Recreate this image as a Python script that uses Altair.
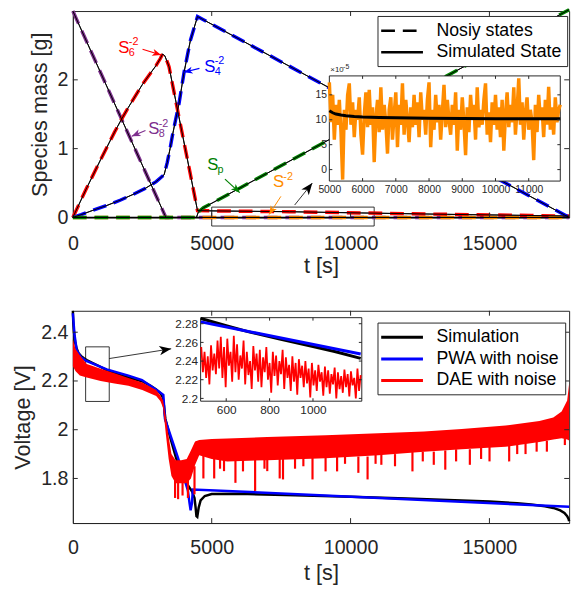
import altair as alt
import pandas as pd

FONT = "Liberation Sans"
AX = "#262626"
RED, BLUE, PURPLE, GREEN, ORANGE = "#ff0000", "#0000ff", "#7e2f8e", "#008000", "#ff8c00"

W, H1, H2 = 505, 210, 216
X_MAX = 17870

# ---------------- top panel: species masses [g] ----------------
s8_t = [0, 3350, 17870]
s8_v = [3.0, 0.0, 0.0]
s6_t = [0, 500, 1000, 1500, 1756, 2000, 2500, 2800, 3000, 3150, 3230, 3310, 3400, 3463, 3800, 4200, 4488, 5000, 7800, 10400, 13500, 16500, 17870]
s6_v = [0.0, 0.43, 0.84, 1.24, 1.43, 1.6, 1.93, 2.1, 2.21, 2.31, 2.375, 2.35, 2.26, 2.19, 1.5, 0.69, 0.1, 0.095, 0.083, 0.065, 0.045, 0.028, 0.02]
s4_t = [0, 300, 700, 1200, 1700, 2200, 2600, 3000, 3286, 3400, 3500, 3580, 3700, 3816, 4000, 4230, 4488, 17870]
s4_v = [0.0, 0.04, 0.1, 0.17, 0.25, 0.34, 0.42, 0.52, 0.62, 0.8, 1.0, 1.18, 1.42, 1.64, 2.1, 2.57, 2.92, 0.0]
s2_t = [0, 4450, 4550, 17870]
s2_v = [0.0, 0.0, 0.0001, 0.0001]
sp_t = [0, 4450, 4520, 4700, 17870]
sp_v = [0.0, 0.0, 0.08, 0.14, 3.02]

# inset (S^-2, units of 1e-5 g)
ins1_t0, ins1_dt = 5000, 50
ins1_noisy = [17.5, 9.5, 15, 6, 13, 9, 14, 7.5, -2, 12, 8, 15, 17.3, 9, 13.5, 6.5, 12, 10, 14.5, 7,
              3, 11, 15.5, 8.5, 16, 9, 12.5, 1.5, 10.5, 14, 7.5, 16.5, 8, 13, 9.5, 3.2, 12, 14.5, 6, 11,
              15.5, 4.5, 13, 9, 17.3, 7, 14, 10, 5.5, 12.5, 8.5, 15, 9, 13.5, 6.5, 15.5, 10, 12, 7, 14,
              17.5, 4.5, 12, 8, 15, 9.5, 13, 6, 11.5, 17, 8.5, 14, 10, 7, 13, 9, 15.5, 3.8, 12, 8,
              14.5, 9.5, 2.9, 12.5, 7.5, 15, 10, 13, 6, 16.5, 8.5, 12, 9, 14, 17.3, 7, 11.5, 5.5, 13.5, 9,
              15, 8, 12.5, 6.5, 14, 3.8, 11, 15.5, 8.5, 13, 9.5, 16.5, 7, 12, 18.3, 9, 13.5, 6, 11.5, 14.5,
              8, 12, 9.5, 1.9, 13, 7.5, 15, 10, 12.5, 6.5, 14, 9, 16.6, 8, 12.5, 7, 14.5, 9.5, 12, 13]
ins1_sim_t = [5000, 5100, 5200, 5350, 5500, 5750, 6000, 6500, 7000, 8000, 9000, 10000, 11000, 11950]
ins1_sim_v = [11.8, 11.4, 11.15, 10.95, 10.8, 10.65, 10.55, 10.45, 10.4, 10.3, 10.25, 10.2, 10.2, 10.2]

# ---------------- bottom panel: voltage [V] ----------------
sim_t = [0, 15, 40, 80, 130, 200, 300, 400, 500, 700, 900, 1200, 1600, 2000, 2490, 2800, 3000, 3150, 3230, 3280,
         3330, 3500, 3718, 3900, 4100, 4300, 4380, 4420, 4450, 4480, 4530, 4600, 4750, 5000, 6000, 8000, 10000,
         12000, 14000, 15000, 16000, 16500, 17000, 17300, 17550, 17700, 17800, 17850, 17870]
sim_v = [2.488, 2.44, 2.40, 2.36, 2.335, 2.315, 2.302, 2.293, 2.2856, 2.2745, 2.2635, 2.2455, 2.229, 2.214, 2.199,
         2.18, 2.165, 2.15, 2.135, 2.1, 2.045, 1.97, 1.883, 1.83, 1.78, 1.745, 1.72, 1.68, 1.645, 1.642, 1.68, 1.71,
         1.728, 1.736, 1.737, 1.731, 1.725, 1.718, 1.71, 1.706, 1.698, 1.693, 1.686, 1.679, 1.669, 1.658, 1.645,
         1.634, 1.625]
pwa_t = [0, 60, 140, 300, 483, 1220, 2000, 2490, 3080, 3258, 3317, 3789, 4143, 4200, 4240, 4290, 4320, 17870]
pwa_v = [2.478, 2.39, 2.325, 2.296, 2.282, 2.2475, 2.222, 2.204, 2.158, 2.143, 2.044, 1.883, 1.75, 1.70, 1.669, 1.70, 1.755, 1.684]
dae_t = [0, 100, 250, 500, 1000, 1500, 2000, 2500, 3000, 3150, 3250, 3350, 3450, 3550, 3700, 3900, 4100, 4250,
         4400, 4550, 5000, 5560, 7000, 9100, 11000, 12640, 14000, 15580, 16800, 17300, 17600, 17800, 17870]
dae_hi = [2.37, 2.33, 2.306, 2.27, 2.25, 2.232, 2.212, 2.194, 2.163, 2.14, 2.12, 2.05, 1.97, 1.90, 1.875, 1.875,
          1.88, 1.915, 1.952, 1.958, 1.962, 1.964, 1.97, 1.977, 1.985, 1.993, 2.003, 2.017, 2.036, 2.05, 2.075, 2.12, 2.19]
dae_lo = [2.26, 2.24, 2.222, 2.214, 2.20, 2.19, 2.18, 2.163, 2.138, 2.118, 2.09, 1.98, 1.88, 1.81, 1.78, 1.78,
          1.78, 1.80, 1.855, 1.895, 1.88, 1.87, 1.875, 1.883, 1.895, 1.91, 1.92, 1.93, 1.95, 1.96, 1.965, 1.96, 1.956]
spike_t = [3680, 3790, 3950, 4143, 4380, 4700, 5089, 5300, 5443, 5854, 6126, 6563, 6900, 7000, 7448, 7567, 8000,
           8300, 8629, 9100, 9515, 9800, 10280, 10612, 10900, 11108, 11600, 12228, 12600, 12996, 13410, 13800,
           14295, 14700, 15003, 15711, 16000, 16300, 16700, 17068, 17716]
spike_lo = [1.72, 1.715, 1.73, 1.72, 1.735, 1.80, 1.80, 1.84, 1.83, 1.782, 1.829, 1.749, 1.84, 1.83, 1.80, 1.796,
            1.84, 1.85, 1.796, 1.829, 1.829, 1.86, 1.823, 1.796, 1.86, 1.856, 1.85, 1.829, 1.87, 1.856, 1.836, 1.87,
            1.856, 1.88, 1.87, 1.87, 1.9, 1.9, 1.91, 1.91, 1.937]
spike_hi = [1.80, 1.80, 1.80, 1.80, 1.85, 1.90, 1.89, 1.885, 1.88, 1.88, 1.88, 1.88, 1.88, 1.88, 1.88, 1.88, 1.885,
            1.885, 1.885, 1.89, 1.89, 1.89, 1.89, 1.89, 1.90, 1.90, 1.90, 1.91, 1.91, 1.91, 1.915, 1.92, 1.92, 1.925,
            1.93, 1.935, 1.94, 1.945, 1.95, 1.955, 1.965]

# inset (t = 485 ... 1220 s)
ins2_t0, ins2_dt = 485, 7.5
ins2_dae = [2.255, 2.228, 2.250, 2.222, 2.245, 2.215, 2.257, 2.230, 2.248, 2.226, 2.262,
            2.232, 2.266, 2.222, 2.255, 2.212, 2.264, 2.235, 2.250, 2.218, 2.267, 2.228,
            2.258, 2.220, 2.246, 2.232, 2.262, 2.215, 2.250, 2.225, 2.240, 2.210, 2.256,
            2.230, 2.248, 2.218, 2.252, 2.212, 2.244, 2.228, 2.255, 2.220, 2.238, 2.206,
            2.250, 2.224, 2.246, 2.214, 2.240, 2.226, 2.252, 2.210, 2.244, 2.222, 2.236,
            2.208, 2.245, 2.218, 2.238, 2.204, 2.242, 2.222, 2.235, 2.212, 2.240, 2.216,
            2.232, 2.201, 2.238, 2.214, 2.230, 2.208, 2.236, 2.218, 2.228, 2.203, 2.234,
            2.212, 2.230, 2.205, 2.226, 2.215, 2.233, 2.200, 2.228, 2.210, 2.224, 2.206,
            2.231, 2.212, 2.226, 2.202, 2.229, 2.214, 2.222, 2.200, 2.232, 2.208, 2.225]
ins2_sim_t = [483, 600, 700, 847, 1000, 1100, 1220]
ins2_sim_v = [2.2856, 2.2778, 2.2716, 2.2636, 2.2556, 2.2502, 2.2428]
ins2_pwa_t = [483, 1220]
ins2_pwa_v = [2.282, 2.2475]

ARROW = "M0,0L-0.6,1.5L0,1.1L0.6,1.5Z"
LINE_SYM = "M-2.5,0L2.5,0"


def inward_ticks(X, Y, xv, yv, x0, x1, y0, y1, L):
    out = []
    for yy, off in ((y0, -L), (y1, L)):
        d = pd.DataFrame({"t": xv, "v": [yy] * len(xv)})
        out.append(alt.Chart(d).mark_rule(color=AX, strokeWidth=1, y2Offset=off).encode(
            x=X(), y=Y(), y2=alt.Y2("v")))
    for xx, off in ((x0, L), (x1, -L)):
        d = pd.DataFrame({"t": [xx] * len(yv), "v": yv})
        out.append(alt.Chart(d).mark_rule(color=AX, strokeWidth=1, x2Offset=off).encode(
            x=X(), x2=alt.X2("t"), y=Y()))
    return out


def arrows(X, Y, d):
    line = alt.Chart(d).mark_rule().encode(
        x=X("t"), y=Y("v"), x2=alt.X2("t2"), y2=alt.Y2("v2"),
        color=alt.Color("col:N", scale=None), strokeWidth=alt.StrokeWidth("sw:Q", scale=None))
    head = alt.Chart(d).mark_point(shape=ARROW, filled=True, opacity=1, strokeWidth=0).encode(
        x=X("t2"), y=Y("v2"), angle=alt.Angle("ang:Q", scale=None),
        color=alt.Color("col:N", scale=None), size=alt.Size("sz:Q", scale=None))
    return [line, head]


# ================= TOP =================
SX1 = alt.Scale(domain=[0, X_MAX], nice=False, zero=False)
SY1 = alt.Scale(domain=[0, 3], nice=False, zero=False)
AXX1 = alt.Axis(values=[0, 5000, 10000, 15000], format="d", title="t [s]", labelFontSize=20,
                titleFontSize=22, labelPadding=17, titlePadding=2)
AXY1 = alt.Axis(values=[0, 1, 2], format="d", title="Species mass [g]", labelFontSize=20,
                titleFontSize=22, labelPadding=5, titlePadding=6)


def X1(f="t"):
    return alt.X(f"{f}:Q", scale=SX1, axis=AXX1)


def Y1(f="v"):
    return alt.Y(f"{f}:Q", scale=SY1, axis=AXY1)


KINDS = ["Nosiy states", "Simulated State"]
DASH = alt.Scale(domain=KINDS, range=[[14, 8], [1, 0]])
LEG1 = alt.Legend(title=None, orient="none", legendX=310, legendY=5, direction="vertical",
                  symbolType=LINE_SYM, symbolSize=289, symbolOffset=10, labelOffset=25,
                  symbolStrokeColor="black", symbolStrokeWidth=2.5, labelFontSize=18, labelColor="black",
                  labelFont=FONT, padding=5, rowPadding=3, strokeColor=AX, fillColor="white", labelLimit=0)

species = [("S8", s8_t, s8_v, PURPLE), ("S6", s6_t, s6_v, RED), ("S4", s4_t, s4_v, BLUE),
           ("S2", s2_t, s2_v, ORANGE), ("Sp", sp_t, sp_v, GREEN)]
sim_rows = pd.concat([pd.DataFrame({"t": ts, "v": vs, "sp": name, "kind": "Simulated State"})
                      for name, ts, vs, col in species])

top_layers = []
box1 = pd.DataFrame({"t": [5000], "t2": [10850], "v": [-0.125], "v2": [0.15]})
top_layers.append(alt.Chart(box1).mark_rect(fillOpacity=0, stroke="black", strokeWidth=0.8).encode(
    x=X1(), x2=alt.X2("t2"), y=Y1(), y2=alt.Y2("v2")))
# legend carrier (first layer using strokeDash)
top_layers.append(alt.Chart(sim_rows).mark_line(color="black", strokeWidth=1).encode(
    x=X1(), y=Y1(), detail="sp:N",
    strokeDash=alt.StrokeDash("kind:N", scale=DASH, legend=LEG1)))
for name, ts, vs, col in species:
    d = pd.DataFrame({"t": ts, "v": vs, "kind": "Nosiy states"})
    top_layers.append(alt.Chart(d).mark_line(color=col, strokeCap="butt", strokeWidth=3.5).encode(
        x=X1(), y=Y1(),
        strokeDash=alt.StrokeDash("kind:N", scale=DASH, legend=None)))
# simulated states drawn on top of the noisy dashed curves
top_layers.append(alt.Chart(sim_rows).mark_line(color="black", strokeWidth=1).encode(
    x=X1(), y=Y1(), detail="sp:N"))
top_layers += inward_ticks(X1, Y1, [5000, 10000, 15000], [1, 2], 0, X_MAX, 0, 3, 5)

arr1 = pd.DataFrame({
    "t": [2509, 4558, 2615, 5477, 7491, 7986],
    "v": [2.444, 2.167, 1.264, 0.556, 0.306, 0.18],
    "t2": [3180, 3993, 2120, 6007, 7067, 8622],
    "v2": [2.361, 2.111, 1.18, 0.361, 0.042, 0.5],
    "ang": [107, 256, 247, 133, 212, 38],
    "col": [RED, BLUE, PURPLE, GREEN, ORANGE, "black"],
    "sw": [1.2, 1.2, 1.2, 1.2, 1.0, 0.8],
    "sz": [144, 144, 144, 144, 144, 256],
})
top_layers += arrows(X1, Y1, arr1)

ann = pd.DataFrame({
    "t": [1837, 4929, 2915, 5035, 7403],
    "v": [2.458, 2.188, 1.278, 0.754, 0.507],
    "base": ["S", "S", "S", "S", "S"],
    "sup": ["-2", "-2", "-2", " ", "-2"],
    "sub": ["6", "4", "8", "p", " "],
    "col": [RED, BLUE, PURPLE, GREEN, ORANGE],
})
top_layers.append(alt.Chart(ann).mark_text(font=FONT, fontSize=17, align="center", baseline="middle").encode(
    x=X1(), y=Y1(), text="base:N", color=alt.Color("col:N", scale=None)))
top_layers.append(alt.Chart(ann).mark_text(font=FONT, fontSize=11, align="left", baseline="middle", dx=5, dy=-6).encode(
    x=X1(), y=Y1(), text="sup:N", color=alt.Color("col:N", scale=None)))
top_layers.append(alt.Chart(ann).mark_text(font=FONT, fontSize=11, align="left", baseline="middle", dx=5, dy=5).encode(
    x=X1(), y=Y1(), text="sub:N", color=alt.Color("col:N", scale=None)))
top_main = alt.layer(*top_layers)

# top inset
I1_X = [5000, 11950]
I1_Y = [-2.3, 18.8]
SXI1 = alt.Scale(domain=I1_X, range=[261, 496], nice=False, zero=False)
SYI1 = alt.Scale(domain=I1_Y, range=[173, 66], nice=False, zero=False)
AXXI1 = alt.Axis(orient="bottom", offset=173 - H1, values=[5000, 6000, 7000, 8000, 9000, 10000, 11000],
                 format="d", labelFontSize=10.5, labelPadding=4, title=None, domain=False)
AXYI1 = alt.Axis(orient="left", offset=-261, values=[0, 5, 10, 15], format="d", labelFontSize=10.5,
                 labelPadding=3, title=None, domain=False)


def XI1(f="t"):
    return alt.X(f"{f}:Q", scale=SXI1, axis=AXXI1)


def YI1(f="v"):
    return alt.Y(f"{f}:Q", scale=SYI1, axis=AXYI1)


ins1_layers = []
frame1 = pd.DataFrame({"t": [I1_X[0]], "t2": [I1_X[1]], "v": [I1_Y[0]], "v2": [I1_Y[1]]})
ins1_layers.append(alt.Chart(frame1).mark_rect(fill="white", stroke=AX, strokeWidth=1).encode(
    x=XI1(), x2=alt.X2("t2"), y=YI1(), y2=alt.Y2("v2")))
noisy1 = pd.DataFrame({"t": [ins1_t0 + ins1_dt * i for i in range(len(ins1_noisy))], "v": ins1_noisy})
ins1_layers.append(alt.Chart(noisy1).mark_line(color=ORANGE, strokeWidth=3.5).encode(x=XI1(), y=YI1()))
simi1 = pd.DataFrame({"t": ins1_sim_t, "v": ins1_sim_v})
ins1_layers.append(alt.Chart(simi1).mark_line(color="black", strokeWidth=3).encode(x=XI1(), y=YI1()))
ins1_layers += inward_ticks(XI1, YI1, [6000, 7000, 8000, 9000, 10000, 11000], [0, 5, 10, 15],
                            I1_X[0], I1_X[1], I1_Y[0], I1_Y[1], 3)
expo = pd.DataFrame({"t": [I1_X[0], I1_X[0]], "v": [I1_Y[1], I1_Y[1]], "txt": ["×10", "-5"],
                     "kind2": ["base", "sup"]})
ins1_layers.append(alt.Chart(expo).transform_filter(alt.datum.kind2 == "base").mark_text(
    font=FONT, fontSize=8, color=AX, align="left", baseline="bottom", dx=1, dy=-2).encode(
    x=XI1(), y=YI1(), text="txt:N"))
ins1_layers.append(alt.Chart(expo).transform_filter(alt.datum.kind2 == "sup").mark_text(
    font=FONT, fontSize=7, color=AX, align="left", baseline="bottom", dx=14, dy=-6).encode(
    x=XI1(), y=YI1(), text="txt:N"))
top_ins = alt.layer(*ins1_layers)

top = alt.layer(top_main, top_ins).resolve_scale(x="independent", y="independent").properties(width=W, height=H1)

# ================= BOTTOM =================
SX2 = alt.Scale(domain=[0, X_MAX], nice=False, zero=False)
SY2 = alt.Scale(domain=[1.617, 2.488], nice=False, zero=False)
AXX2 = alt.Axis(values=[0, 5000, 10000, 15000], format="d", title="t [s]", labelFontSize=20,
                titleFontSize=22, labelPadding=15, titlePadding=5)
AXY2 = alt.Axis(values=[1.8, 2.0, 2.2, 2.4], format="~g", title="Voltage [V]", labelFontSize=20,
                titleFontSize=22, labelPadding=5, titlePadding=6)


def X2f(f="t"):
    return alt.X(f"{f}:Q", scale=SX2, axis=AXX2)


def Y2f(f="v"):
    return alt.Y(f"{f}:Q", scale=SY2, axis=AXY2)


SERIES = ["Simulation", "PWA with noise", "DAE with noise"]
CS = alt.Scale(domain=SERIES, range=["black", BLUE, RED])
LEG2 = alt.Legend(title=None, orient="none", legendX=310, legendY=12, direction="vertical",
                  symbolType=LINE_SYM, symbolSize=289, symbolStrokeWidth=3, symbolOffset=10, labelOffset=25,
                  labelFontSize=18, labelColor="black", labelFont=FONT, padding=5, rowPadding=3,
                  strokeColor=AX, fillColor="white", labelLimit=0)

bot_layers = []
box2 = pd.DataFrame({"t": [460], "t2": [1310], "v": [2.116], "v2": [2.34]})
bot_layers.append(alt.Chart(box2).mark_rect(fillOpacity=0, stroke="black", strokeWidth=0.8).encode(
    x=X2f(), x2=alt.X2("t2"), y=Y2f(), y2=alt.Y2("v2")))
simd = pd.DataFrame({"t": sim_t, "v": sim_v, "series": "Simulation"})
bot_layers.append(alt.Chart(simd).mark_line(strokeWidth=2.5).encode(
    x=X2f(), y=Y2f(), color=alt.Color("series:N", scale=CS, legend=LEG2)))
pwad = pd.DataFrame({"t": pwa_t, "v": pwa_v, "series": "PWA with noise"})
bot_layers.append(alt.Chart(pwad).mark_line(strokeWidth=2.5).encode(
    x=X2f(), y=Y2f(), color=alt.Color("series:N", scale=CS, legend=None)))
daed = pd.DataFrame({"t": dae_t, "v": dae_lo, "v2": dae_hi, "series": "DAE with noise"})
bot_layers.append(alt.Chart(daed).mark_area(opacity=1).encode(
    x=X2f(), y=Y2f(), y2=alt.Y2("v2"), color=alt.Color("series:N", scale=CS, legend=None)))
spk = pd.DataFrame({"t": spike_t, "v": spike_lo, "v2": spike_hi, "series": "DAE with noise"})
bot_layers.append(alt.Chart(spk).mark_rule(strokeWidth=2.2).encode(
    x=X2f(), y=Y2f(), y2=alt.Y2("v2"), color=alt.Color("series:N", scale=CS, legend=None)))
bot_layers += inward_ticks(X2f, Y2f, [5000, 10000, 15000], [1.8, 2.0, 2.2, 2.4], 0, X_MAX, 1.617, 2.488, 5)
arr2 = pd.DataFrame({"t": [1310], "v": [2.292], "t2": [3541], "v2": [2.332], "ang": [81],
                     "col": ["black"], "sw": [0.8], "sz": [256]})
bot_layers += arrows(X2f, Y2f, arr2)
bot_main = alt.layer(*bot_layers)

I2_X = [482, 1225]
I2_Y = [2.197, 2.2865]
SXI2 = alt.Scale(domain=I2_X, range=[130, 294], nice=False, zero=False)
SYI2 = alt.Scale(domain=I2_Y, range=[92, 7], nice=False, zero=False)
AXXI2 = alt.Axis(orient="bottom", offset=92 - H2, values=[600, 800, 1000], format="d", labelFontSize=12,
                 labelPadding=4, title=None, domain=False)
AXYI2 = alt.Axis(orient="left", offset=-130, values=[2.2, 2.22, 2.24, 2.26, 2.28], format=".2~f",
                 labelFontSize=12, labelPadding=3, title=None, domain=False)


def XI2(f="t"):
    return alt.X(f"{f}:Q", scale=SXI2, axis=AXXI2)


def YI2(f="v"):
    return alt.Y(f"{f}:Q", scale=SYI2, axis=AXYI2)


ins2_layers = []
frame2 = pd.DataFrame({"t": [I2_X[0]], "t2": [I2_X[1]], "v": [I2_Y[0]], "v2": [I2_Y[1]]})
ins2_layers.append(alt.Chart(frame2).mark_rect(fill="white", stroke=AX, strokeWidth=1).encode(
    x=XI2(), x2=alt.X2("t2"), y=YI2(), y2=alt.Y2("v2")))
ins2_layers.append(alt.Chart(pd.DataFrame({"t": ins2_sim_t, "v": ins2_sim_v})).mark_line(
    color="black", strokeWidth=3).encode(x=XI2(), y=YI2()))
ins2_layers.append(alt.Chart(pd.DataFrame({"t": ins2_pwa_t, "v": ins2_pwa_v})).mark_line(
    color=BLUE, strokeWidth=3).encode(x=XI2(), y=YI2()))
noisy2 = pd.DataFrame({"t": [ins2_t0 + ins2_dt * i for i in range(len(ins2_dae))], "v": ins2_dae})
ins2_layers.append(alt.Chart(noisy2).mark_line(color=RED, strokeWidth=1.8).encode(x=XI2(), y=YI2()))
ins2_layers += inward_ticks(XI2, YI2, [600, 800, 1000], [2.2, 2.22, 2.24, 2.26, 2.28],
                            I2_X[0], I2_X[1], I2_Y[0], I2_Y[1], 3)
bot_ins = alt.layer(*ins2_layers)

bottom = alt.layer(bot_main, bot_ins).resolve_scale(x="independent", y="independent").properties(width=W, height=H2)

chart = alt.vconcat(top, bottom, spacing=28).resolve_scale(
    color="independent", strokeDash="independent"
).resolve_legend(
    color="independent", strokeDash="independent"
).properties(
    padding={"left": 3, "top": -11, "right": 0, "bottom": 0}
).configure_view(stroke=AX, strokeWidth=1).configure_axis(
    labelFont=FONT, titleFont=FONT, labelColor=AX, titleColor=AX, domainColor=AX, domainWidth=1,
    grid=False, ticks=False, tickSize=0, labelFlush=False, labelOverlap=False, titleFontWeight="normal"
).configure_text(font=FONT)

chart.save("out.html", embed_options={"renderer": "svg", "actions": False})
